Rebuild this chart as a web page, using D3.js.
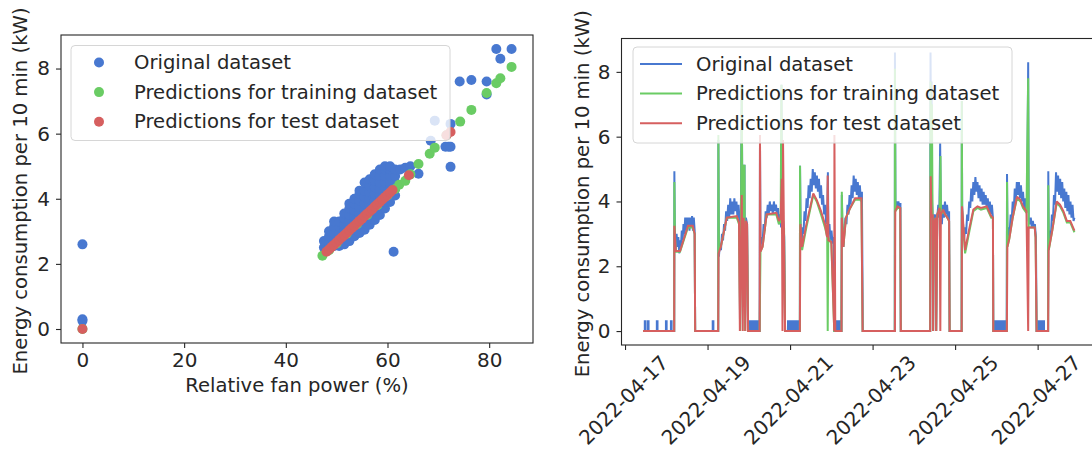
<!DOCTYPE html>
<html>
<head>
<meta charset="utf-8">
<script src="https://cdn.jsdelivr.net/npm/d3@7"></script>
<style>
body { margin: 0; background: #fff; }
svg text { font-family: "DejaVu Sans", sans-serif; fill: #262626; }
</style>
</head>
<body>
<svg id="chart" width="1092" height="451"></svg>
<script>
// ---- data: scatter (fan power %, kW) ----
const scatterOriginal = [
    [0, 2.6], [0, 0.3], [0, 0.25],
    [47.5, 2.5], [47.5, 2.7],
    [48.5, 2.45], [48.5, 2.65], [48.5, 2.85], [48.5, 3.0],
    [49.5, 2.55], [49.5, 2.75], [49.5, 2.95], [49.5, 3.15], [49.5, 3.3],
    [50.5, 2.55], [50.5, 2.75], [50.5, 2.95], [50.5, 3.15], [50.5, 3.3],
    [51.5, 2.6], [51.5, 2.8], [51.5, 3.0], [51.5, 3.2], [51.5, 3.4], [51.5, 3.55],
    [52.5, 2.7], [52.5, 2.9], [52.5, 3.1], [52.5, 3.3], [52.5, 3.5], [52.5, 3.7], [52.5, 3.85],
    [53.5, 2.85], [53.5, 3.05], [53.5, 3.25], [53.5, 3.45], [53.5, 3.65], [53.5, 3.85], [53.5, 4.0],
    [54.5, 2.95], [54.5, 3.15], [54.5, 3.35], [54.5, 3.55], [54.5, 3.75], [54.5, 3.95], [54.5, 4.15], [54.5, 4.25],
    [55.5, 3.05], [55.5, 3.25], [55.5, 3.45], [55.5, 3.65], [55.5, 3.85], [55.5, 4.05], [55.5, 4.25], [55.5, 4.5],
    [56.5, 3.2], [56.5, 3.4], [56.5, 3.6], [56.5, 3.8], [56.5, 4.0], [56.5, 4.2], [56.5, 4.4], [56.5, 4.6],
    [57.5, 3.35], [57.5, 3.55], [57.5, 3.75], [57.5, 3.95], [57.5, 4.15], [57.5, 4.35], [57.5, 4.55], [57.5, 4.75],
    [58.5, 3.5], [58.5, 3.7], [58.5, 3.9], [58.5, 4.1], [58.5, 4.3], [58.5, 4.5], [58.5, 4.7], [58.5, 4.9],
    [59.5, 3.7], [59.5, 3.9], [59.5, 4.1], [59.5, 4.3], [59.5, 4.5], [59.5, 4.7], [59.5, 4.9], [59.5, 5.0],
    [60.5, 3.9], [60.5, 4.1], [60.5, 4.3], [60.5, 4.5], [60.5, 4.7], [60.5, 4.9], [60.5, 5.0],
    [61.5, 4.1], [61.5, 4.3], [61.5, 4.5], [61.5, 4.7], [61.5, 4.9],
    [61.2, 2.37], [62.5, 4.9], [63.5, 4.95], [64.5, 5.0], [66.1, 4.77],
    [68.5, 5.78], [69.3, 6.4], [71.4, 5.6], [72.0, 5.6], [72.4, 5.6], [72.4, 4.98], [72.4, 6.3],
    [74.2, 7.6], [76.5, 7.65], [79.5, 7.6], [79.5, 7.2], [81.4, 8.6], [82.2, 8.3], [84.4, 8.6]
];
const scatterTrain = [
    [0, 0], [47.2, 2.25], [48.5, 2.42], [50, 2.63], [52, 2.93], [54, 3.22], [56, 3.5], [58, 3.8],
    [60, 4.1], [61.5, 4.3], [62.3, 4.43], [63.5, 4.55], [64.5, 4.75], [66.1, 5.07], [68.3, 5.38],
    [69.3, 5.57], [71.6, 5.95], [74.3, 6.37], [76.5, 6.73], [79.5, 7.25], [81.4, 7.55], [82.2, 7.7], [84.4, 8.05]
];
const scatterTest = [
    [0, 0],
    [48, 2.37], [48.5, 2.44], [49, 2.52], [49.5, 2.59], [50, 2.66], [50.5, 2.74], [51, 2.81],
    [51.5, 2.88], [52, 2.95], [52.5, 3.03], [53, 3.1], [53.5, 3.17], [54, 3.25], [54.5, 3.32],
    [55, 3.39], [55.5, 3.47], [56, 3.54], [56.5, 3.61], [57, 3.68], [57.5, 3.76], [58, 3.83],
    [58.5, 3.9], [59, 3.98], [59.5, 4.05], [60, 4.12], [60.5, 4.19], [61, 4.27],
    [64.2, 4.72], [71.6, 5.95], [72.4, 6.05]
];
const scatterTicksX = [0, 20, 40, 60, 80];
const energyTicks = [0, 2, 4, 6, 8];

// ---- data: time series, [hours since 2022-04-17 00:00, kW] ----
const seriesOriginal = [
    [10.5, 0], [11.5, 0], [11.5, 0.3], [11.9, 0.3], [11.9, 0], [13.3, 0], [13.3, 0.3], [13.7, 0.3], [13.7, 0],
    [18.5, 0], [18.5, 0.3], [18.9, 0.3], [18.9, 0], [23.8, 0], [23.8, 0.3], [24.2, 0.3], [24.2, 0],
    [26.7, 0], [26.7, 0.3], [27.1, 0.3], [27.1, 0], [28.6, 0],
    [28.7, 4.93], [29.0, 2.9], [29.5, 2.5], [30.0, 3.0], [30.5, 2.6], [31.0, 2.9], [31.5, 2.4], [32.0, 2.8],
    [32.5, 2.6], [33.0, 3.1], [33.5, 2.8], [34.0, 3.3], [34.5, 3.0], [35.0, 3.5], [35.5, 3.1], [36.0, 3.5],
    [36.5, 3.2], [37.0, 3.5], [37.5, 3.1], [38.0, 3.5], [38.5, 3.2], [39.0, 3.55], [39.5, 3.1], [40.0, 3.5],
    [40.5, 3.1], [40.8, 0],
    [51.0, 0], [51.0, 0.3], [51.4, 0.3], [51.4, 0], [54.2, 0],
    [54.3, 5.9], [54.6, 2.3], [55.2, 2.7], [55.8, 2.5], [56.4, 3.0], [57.0, 2.8], [57.6, 3.3], [58.2, 3.1],
    [58.8, 3.7], [59.4, 3.4], [60.0, 3.9], [60.6, 3.5], [61.2, 4.1], [61.8, 3.6], [62.4, 4.0], [63.0, 3.6],
    [63.6, 4.1], [64.2, 3.7], [64.8, 4.0], [65.4, 3.5], [66.0, 3.9], [66.6, 3.3], [66.9, 0],
    [67.9, 7.6], [68.3, 3.0], [68.8, 5.1], [69.5, 5.1], [69.8, 0], [70.3, 3.5], [71.0, 3.3], [71.6, 0],
    [71.8, 0.3], [72.3, 0.3], [72.3, 0], [72.9, 0], [72.9, 0.3], [73.4, 0.3], [73.4, 0], [74.0, 0],
    [74.0, 0.3], [74.5, 0.3], [74.5, 0], [75.1, 0], [75.1, 0.3], [75.6, 0.3], [75.6, 0], [76.2, 0],
    [76.2, 0.3], [76.7, 0.3], [76.7, 0], [77.3, 0], [77.3, 0.3], [77.6, 0.3], [77.6, 0], [78.3, 0],
    [78.5, 5.9], [78.8, 2.6], [79.4, 2.9], [80.0, 2.7], [80.6, 3.3], [81.2, 3.1], [81.8, 3.7], [82.4, 3.5],
    [83.0, 3.9], [83.6, 3.6], [84.2, 4.0], [84.8, 3.7], [85.4, 3.9], [86.0, 3.6], [86.6, 4.0], [87.2, 3.7],
    [87.8, 3.9], [88.4, 3.6], [89.0, 3.8], [89.6, 3.3], [90.2, 3.6], [90.8, 3.2], [91.0, 7.6], [91.4, 3.1],
    [92.0, 3.4], [92.6, 2.9], [93.1, 0],
    [94.8, 0], [94.8, 0.3], [95.3, 0.3], [95.3, 0], [95.9, 0], [95.9, 0.3], [96.4, 0.3], [96.4, 0],
    [97.0, 0], [97.0, 0.3], [97.5, 0.3], [97.5, 0], [98.1, 0], [98.1, 0.3], [98.6, 0.3], [98.6, 0],
    [99.2, 0], [99.2, 0.3], [99.7, 0.3], [99.7, 0], [100.3, 0], [100.3, 0.3], [100.8, 0.3], [100.8, 0], [101.7, 0],
    [101.8, 5.1], [102.1, 3.3], [102.6, 2.6], [103.2, 3.2], [103.8, 3.0], [104.4, 3.7], [105.0, 3.4], [105.6, 4.1],
    [106.2, 3.8], [106.8, 4.5], [107.4, 4.1], [108.0, 4.7], [108.6, 4.3], [109.2, 5.0], [109.8, 4.5], [110.4, 4.9],
    [111.0, 4.4], [111.6, 4.8], [112.2, 4.3], [112.8, 4.7], [113.4, 4.1], [114.0, 4.5], [114.6, 3.9], [115.2, 4.2],
    [115.8, 3.6], [116.4, 3.9], [117.0, 3.3], [117.6, 3.5], [118.0, 4.9], [118.3, 3.0], [118.9, 3.3], [119.5, 2.8],
    [120.1, 3.1], [120.7, 2.7], [121.3, 2.9], [121.7, 0],
    [122.7, 0], [122.7, 0.3], [123.2, 0.3], [123.2, 0], [123.8, 0], [123.8, 0.3], [124.3, 0.3], [124.3, 0],
    [124.9, 0], [124.9, 0.3], [125.3, 0.3], [125.3, 0], [125.9, 0],
    [126.1, 4.2], [126.4, 3.3], [127.0, 2.6], [127.6, 3.1], [128.2, 3.5], [128.8, 3.3], [129.4, 3.9], [130.0, 3.6],
    [130.6, 4.2], [131.2, 3.9], [131.8, 4.5], [132.4, 4.1], [133.0, 4.8], [133.6, 4.3], [134.2, 4.7], [134.8, 4.2],
    [135.4, 4.6], [136.0, 4.1], [136.6, 4.5], [137.2, 4.0], [137.8, 4.3], [138.3, 0],
    [156.9, 0], [157.0, 8.6], [157.3, 3.8], [157.8, 4.0], [158.4, 3.8], [159.0, 4.0], [159.6, 3.85], [160.2, 3.95], [160.4, 0],
    [177.5, 0], [177.7, 8.6], [178.0, 5.8], [178.3, 7.7], [178.6, 4.0], [178.9, 3.6], [179.2, 0], [179.6, 3.1],
    [180.2, 3.6], [180.7, 3.4], [181.0, 0], [181.6, 3.5], [182.2, 3.9], [182.8, 3.5], [183.3, 5.8], [183.7, 3.7],
    [184.3, 3.3], [184.9, 3.9], [185.5, 3.5], [186.1, 4.0], [186.7, 3.6], [187.3, 3.9], [187.9, 3.5], [188.5, 3.7], [188.8, 0],
    [195.8, 0], [195.9, 7.1], [196.1, 3.9], [196.6, 3.2], [197.2, 2.8], [197.8, 3.2], [198.4, 3.0], [199.0, 3.6],
    [199.6, 3.4], [200.2, 4.0], [200.8, 3.8], [201.4, 4.4], [202.0, 4.0], [202.6, 4.6], [203.2, 4.2], [203.8, 4.75],
    [204.4, 4.3], [205.0, 4.6], [205.6, 4.1], [206.2, 4.5], [206.8, 4.0], [207.4, 4.4], [208.0, 3.9], [208.6, 4.3],
    [209.2, 3.9], [209.8, 4.2], [210.4, 3.8], [211.0, 4.1], [211.6, 3.7], [212.2, 4.0], [212.8, 3.6], [213.4, 3.9],
    [214.0, 3.5], [214.2, 0],
    [214.7, 0], [214.7, 0.3], [215.3, 0.3], [215.3, 0], [216.1, 0], [216.1, 0.3], [216.7, 0.3], [216.7, 0],
    [217.5, 0], [217.5, 0.3], [218.1, 0.3], [218.1, 0], [218.9, 0], [218.9, 0.3], [219.5, 0.3], [219.5, 0],
    [220.3, 0], [220.3, 0.3], [220.9, 0.3], [220.9, 0], [222.0, 0],
    [222.2, 4.85], [222.5, 2.8], [223.1, 3.2], [223.7, 3.0], [224.3, 3.6], [224.9, 3.4], [225.5, 4.0], [226.1, 3.7],
    [226.7, 4.4], [227.3, 4.0], [227.9, 4.6], [228.5, 4.2], [229.1, 4.6], [229.7, 4.1], [230.3, 4.5], [230.9, 4.0],
    [231.5, 4.3], [232.1, 3.8], [232.7, 4.1], [233.3, 3.7], [233.9, 3.9], [234.5, 8.3], [234.8, 3.4], [235.4, 3.3],
    [236.0, 3.5], [236.6, 3.2], [237.2, 3.4], [237.8, 3.2], [238.4, 3.3], [239.0, 2.9], [239.4, 0],
    [240.3, 0], [240.3, 0.3], [240.9, 0.3], [240.9, 0], [241.7, 0], [241.7, 0.3], [242.3, 0.3], [242.3, 0],
    [243.1, 0], [243.1, 0.3], [243.7, 0.3], [243.7, 0], [246.1, 0],
    [246.2, 4.93], [246.5, 2.6], [247.1, 3.1], [247.7, 2.9], [248.3, 3.6], [248.9, 3.4], [249.5, 4.2], [250.1, 3.9],
    [250.7, 4.9], [251.3, 4.3], [251.9, 4.8], [252.5, 4.2], [253.1, 4.7], [253.7, 4.1], [254.3, 4.6], [254.9, 4.0],
    [255.5, 4.4], [256.1, 3.8], [256.7, 4.3], [257.3, 3.7], [257.9, 4.2], [258.5, 3.6], [259.1, 4.0], [259.7, 3.5],
    [260.3, 3.9], [260.9, 3.4], [261.4, 3.5]
];
const seriesTrain = [
    [10.5, 0], [28.6, 0], [28.7, 4.6], [29.0, 3.0], [29.5, 2.45], [32.0, 2.45], [36.6, 3.2], [39.4, 3.2], [40.5, 3.0], [40.8, 0],
    [54.2, 0], [54.3, 6.05], [54.6, 2.5], [55.7, 2.6], [59.2, 3.5], [65.0, 3.5], [66.3, 3.3], [67.0, 0], [67.9, 7.6],
    [68.3, 3.0], [68.8, 5.1], [69.5, 5.1], [69.8, 0], [70.3, 3.2], [71.0, 3.2], [71.6, 0],
    [78.3, 0], [78.8, 2.45], [80.0, 2.6], [82.4, 3.6], [88.0, 3.6], [89.5, 3.3], [90.5, 3.4], [91.0, 7.6], [91.4, 3.0], [92.5, 3.2], [93.1, 0],
    [101.7, 0], [101.8, 5.1], [102.1, 3.2], [103.0, 2.5], [105.5, 3.2], [109.5, 4.2], [111.5, 4.0], [114.0, 3.6], [116.3, 3.2],
    [117.6, 2.9], [117.9, 0], [118.2, 2.9], [120.0, 2.7], [121.7, 0],
    [125.9, 0], [126.1, 4.3], [126.4, 3.5], [127.0, 2.6], [128.5, 3.5], [131.0, 3.8], [133.8, 4.05], [137.5, 4.05], [138.2, 0],
    [156.9, 0], [157.0, 8.1], [157.3, 3.7], [158.5, 3.8], [160.1, 3.8], [160.4, 0],
    [177.5, 0], [177.7, 7.7], [178.0, 5.8], [178.5, 7.0], [178.9, 3.5], [179.2, 0], [179.6, 3.3], [180.7, 3.5], [181.0, 0],
    [181.6, 3.6], [183.0, 3.8], [183.5, 5.4], [183.8, 3.6], [185.0, 3.7], [186.2, 3.6], [187.5, 3.5], [188.5, 3.4], [188.8, 0],
    [195.8, 0], [195.9, 7.1], [196.1, 3.7], [197.8, 2.4], [200.0, 3.0], [202.6, 3.7], [205.0, 3.8], [207.0, 3.75], [210.4, 3.8],
    [213.0, 3.5], [214.0, 3.5], [214.2, 0],
    [222.1, 0], [222.2, 4.6], [222.5, 2.6], [223.5, 2.85], [225.5, 3.5], [228.0, 4.1], [230.0, 4.0], [231.5, 3.8], [233.5, 3.65],
    [234.5, 7.8], [234.8, 3.2], [238.3, 3.2], [238.8, 2.9], [239.4, 0],
    [246.1, 0], [246.2, 4.5], [246.5, 2.5], [248.5, 3.1], [251.1, 3.95], [253.0, 3.85], [255.0, 3.65], [257.0, 3.35], [259.0, 3.35], [261.4, 3.05]
];
const seriesTest = [
    [10.5, 0], [28.6, 0], [28.7, 3.25], [29.5, 2.47], [32.0, 2.47], [36.6, 3.25], [39.4, 3.25], [40.5, 3.0], [40.8, 0],
    [54.2, 0], [54.4, 2.4], [55.7, 2.6], [59.2, 3.5], [65.0, 3.55], [66.3, 3.35], [66.8, 0], [67.9, 4.2], [68.5, 0],
    [69.0, 3.5], [70.0, 0], [70.3, 3.4], [71.0, 3.3], [71.6, 0],
    [78.3, 0], [78.5, 6.05], [78.8, 2.45], [80.0, 2.6], [82.4, 3.6], [88.0, 3.65], [89.5, 3.4], [90.5, 3.5], [91.2, 4.7],
    [91.6, 0], [91.9, 5.9], [92.4, 3.3], [93.1, 0],
    [101.7, 0], [102.0, 3.3], [103.0, 2.6], [105.5, 3.3], [109.5, 4.25], [111.5, 4.05], [114.0, 3.7], [116.3, 3.3],
    [117.5, 2.9], [117.9, 4.8], [118.3, 2.8], [120.0, 2.75], [121.7, 0], [121.8, 6.05], [122.3, 0],
    [125.9, 0], [126.1, 3.5], [127.0, 2.6], [128.5, 3.5], [131.0, 3.8], [133.8, 4.1], [137.5, 4.1], [138.2, 0],
    [157.0, 0], [157.2, 3.7], [158.5, 3.85], [160.1, 3.8], [160.4, 0],
    [177.5, 0], [177.8, 4.78], [178.3, 3.5], [179.0, 3.6], [179.2, 0], [179.6, 3.3], [180.7, 3.5], [181.0, 0],
    [181.6, 3.6], [183.0, 3.8], [183.4, 0], [183.7, 3.6], [185.0, 3.75], [186.2, 3.6], [187.5, 3.5], [188.5, 3.4], [188.8, 0],
    [195.8, 0], [196.0, 3.85], [197.8, 2.5], [200.0, 3.1], [202.6, 3.75], [205.0, 3.85], [207.0, 3.8], [210.4, 3.85],
    [213.0, 3.55], [214.0, 3.5], [214.2, 0],
    [222.1, 0], [222.4, 2.6], [223.5, 2.85], [225.5, 3.5], [228.0, 4.15], [230.0, 4.05], [231.5, 3.85], [233.5, 3.7],
    [234.5, 0], [234.8, 3.2], [238.3, 3.2], [238.8, 2.9], [239.4, 0],
    [246.1, 0], [246.4, 2.5], [248.5, 3.1], [251.1, 4.0], [253.0, 3.9], [255.0, 3.7], [257.0, 3.4], [259.0, 3.4], [261.4, 3.1]
];
const dateTicks = ["2022-04-17", "2022-04-19", "2022-04-21", "2022-04-23", "2022-04-25", "2022-04-27"];
const legendLabels = ["Original dataset", "Predictions for training dataset", "Predictions for test dataset"];

const colors = ["#4878d0", "#6acc64", "#d65f5f"];
const FONT = 19.6;
const TICK_FONT = 20;
const svg = d3.select("#chart");

// matplotlib style 5% margin around the data
function padded(extent) {
    let span = extent[1] - extent[0];
    return [extent[0] - span * 0.05, extent[1] + span * 0.05];
}

function drawFrame(box) {
    svg.append("rect")
        .attr("x", box.left).attr("y", box.top)
        .attr("width", box.right - box.left).attr("height", box.bottom - box.top)
        .attr("fill", "none").attr("stroke", "#262626").attr("stroke-width", 1.1);
}

function styleAxis(g) {
    g.select(".domain").remove();
    g.selectAll(".tick line").attr("stroke", "#262626").attr("stroke-width", 1.1);
    g.selectAll(".tick text").attr("font-size", TICK_FONT).attr("font-family", "DejaVu Sans").attr("fill", "#262626");
}

function yLabel(x, cy) {
    svg.append("text")
        .attr("transform", `translate(${x},${cy}) rotate(-90)`)
        .attr("text-anchor", "middle").attr("font-size", FONT)
        .text("Energy consumption per 10 min (kW)");
}

function drawLegend(box, kind) {
    let g = svg.append("g");
    g.append("rect")
        .attr("x", box.x).attr("y", box.y).attr("width", box.w).attr("height", box.h)
        .attr("rx", 4).attr("fill", "white").attr("fill-opacity", 0.8)
        .attr("stroke", "#d6d6d6").attr("stroke-width", 1);
    legendLabels.forEach((label, i) => {
        let cy = box.y + 17 + i * 29.6;
        if (kind === "dot") {
            g.append("circle").attr("cx", box.x + 28).attr("cy", cy).attr("r", 5).attr("fill", colors[i]);
        } else {
            g.append("line").attr("x1", box.x + 7).attr("x2", box.x + 49)
                .attr("y1", cy).attr("y2", cy).attr("stroke", colors[i]).attr("stroke-width", 2);
        }
        g.append("text").attr("x", box.x + 63).attr("y", cy)
            .attr("dominant-baseline", "central").attr("font-size", FONT).text(label);
    });
}

// ---------- left: scatter ----------
class ScatterChart {
    constructor() {
        this.box = {left: 61, right: 533, top: 35, bottom: 343};
        let all = scatterOriginal.concat(scatterTrain, scatterTest);
        this.x = d3.scaleLinear().domain(padded(d3.extent(all, d => d[0]))).range([this.box.left, this.box.right]);
        this.y = d3.scaleLinear().domain(padded(d3.extent(all, d => d[1]))).range([this.box.bottom, this.box.top]);
    }

    draw() {
        let b = this.box;
        [scatterOriginal, scatterTrain, scatterTest].forEach((pts, i) => {
            svg.append("g").selectAll("circle").data(pts).enter().append("circle")
                .attr("cx", d => this.x(d[0])).attr("cy", d => this.y(d[1]))
                .attr("r", 5).attr("fill", colors[i]);
        });
        drawFrame(b);
        svg.append("g").attr("transform", `translate(0,${b.bottom})`)
            .call(d3.axisBottom(this.x).tickValues(scatterTicksX).tickSize(5).tickPadding(5).tickSizeOuter(0))
            .call(styleAxis);
        svg.append("g").attr("transform", `translate(${b.left},0)`)
            .call(d3.axisLeft(this.y).tickValues(energyTicks).tickSize(5).tickPadding(6).tickSizeOuter(0))
            .call(styleAxis);
        svg.append("text").attr("x", (b.left + b.right) / 2).attr("y", 392)
            .attr("text-anchor", "middle").attr("font-size", FONT).text("Relative fan power (%)");
        yLabel(27, (b.top + b.bottom) / 2 + 2);
        drawLegend({x: 71, y: 45.5, w: 379, h: 95}, "dot");
    }
}

// ---------- right: time series ----------
class TimeChart {
    constructor() {
        this.box = {left: 621.5, right: 1096, top: 38.5, bottom: 345};
        this.start = new Date(2022, 3, 17, 0, 0);
        this.series = [seriesOriginal, seriesTrain, seriesTest].map(s => s.map(([h, v]) => ({
            date: d3.timeMinute.offset(this.start, Math.round(h * 60)), value: v
        })));
        let all = this.series.flat();
        let hours = d3.extent(all, d => (d.date - this.start) / 3.6e6).map(Number);
        let dom = padded(hours).map(h => d3.timeMinute.offset(this.start, Math.round(h * 60)));
        this.x = d3.scaleTime().domain(dom).range([this.box.left, this.box.right]);
        this.y = d3.scaleLinear().domain(padded(d3.extent(all, d => d.value))).range([this.box.bottom, this.box.top]);
    }

    draw() {
        let b = this.box;
        svg.append("clipPath").attr("id", "tsClip").append("rect")
            .attr("x", b.left).attr("y", b.top).attr("width", b.right - b.left).attr("height", b.bottom - b.top);
        let line = d3.line().x(d => this.x(d.date)).y(d => this.y(d.value));
        let lines = svg.append("g").attr("clip-path", "url(#tsClip)");
        this.series.forEach((s, i) => {
            lines.append("path").datum(s).attr("d", line)
                .attr("fill", "none").attr("stroke", colors[i]).attr("stroke-width", 2)
                .attr("stroke-linejoin", "miter").attr("stroke-miterlimit", 2);
        });
        drawFrame(b);
        let parse = d3.timeParse("%Y-%m-%d");
        let xAxis = svg.append("g").attr("transform", `translate(0,${b.bottom})`)
            .call(d3.axisBottom(this.x).tickValues(dateTicks.map(parse))
                .tickFormat(d3.timeFormat("%Y-%m-%d")).tickSize(5).tickSizeOuter(0))
            .call(styleAxis);
        // rotated 45 degrees, box centred under the tick like matplotlib's rotation=45
        xAxis.selectAll(".tick text").each(function() {
            let w = this.getComputedTextLength();
            let cy = 9 + (w + 14) * 0.3536;
            d3.select(this).attr("y", null).attr("dy", null)
                .attr("text-anchor", "middle").attr("dominant-baseline", "central")
                .attr("transform", `translate(-2,${cy}) rotate(-45)`);
        });
        svg.append("g").attr("transform", `translate(${b.left},0)`)
            .call(d3.axisLeft(this.y).tickValues(energyTicks).tickSize(5).tickPadding(6).tickSizeOuter(0))
            .call(styleAxis);
        yLabel(589, (b.top + b.bottom) / 2 + 2);
        drawLegend({x: 633, y: 47, w: 379, h: 96}, "line");
    }
}

new ScatterChart().draw();
new TimeChart().draw();
</script>
</body>
</html>
